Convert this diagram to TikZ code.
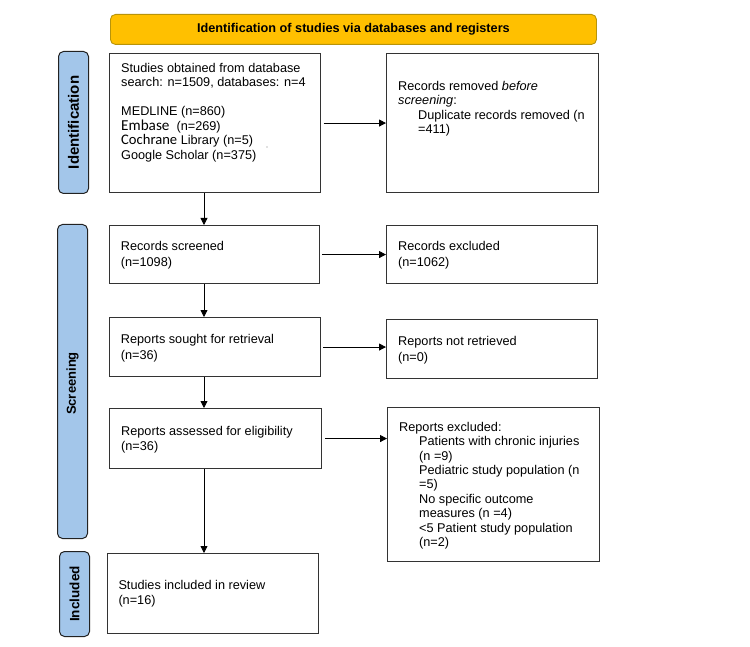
\documentclass[tikz,border=0pt]{standalone}
\usepackage{fontspec}
\setmainfont{Liberation Sans}
\newfontfamily\carlito{Carlito}
\usetikzlibrary{arrows.meta}
\definecolor{hdrfill}{HTML}{FFC000}
\definecolor{hdrline}{HTML}{B8940A}
\definecolor{sidefill}{HTML}{A3C6EA}
\definecolor{sideline}{HTML}{222222}
\definecolor{boxline}{HTML}{333333}
\tikzset{
  stagebox/.style={draw=boxline, line width=1.1pt, fill=white, inner sep=0pt, anchor=north west},
  txt/.style={inner sep=0pt, anchor=north west, align=left, font=\fontsize{12.7}{14.5}\selectfont},
  sidebox/.style={draw=sideline, line width=1pt, fill=sidefill, rounded corners=5pt, inner sep=0pt, anchor=north west},
  sidetxt/.style={inner sep=0pt, rotate=90, font=\bfseries\fontsize{14}{16}\selectfont},
  arr/.style={draw=black, line width=0.8pt, -{Triangle[length=7pt,width=7pt]}},
}
\begin{document}
\begin{tikzpicture}[x=1pt,y=-1pt]
\useasboundingbox[fill=white] (0,0) rectangle (750,647);

% header
\node[draw=hdrline, line width=0.9pt, fill=hdrfill, rounded corners=5pt, minimum width=486pt, minimum height=30pt, inner sep=0pt, anchor=north west] (hdr) at (110,14) {};
\node[inner sep=0pt, font=\bfseries\fontsize{12.7}{14}\selectfont] (hdrt) at (hdr.center) {Identification of studies via databases and registers};

% side labels
\node[sidebox, minimum width=30pt, minimum height=142pt] (sid) at (58,51) {};
\node[sidetxt, font=\bfseries\fontsize{15}{16}\selectfont] (sidt) at (sid.center) {Identification};
\node[sidebox, minimum width=30pt, minimum height=314pt] (ssc) at (57,224) {};
\node[sidetxt, font=\bfseries\fontsize{13}{16}\selectfont] (ssct) at ([yshift=-2pt]ssc.center) {Screening};
\node[sidebox, minimum width=30pt, minimum height=85pt] (sin) at (59,551) {};
\node[sidetxt, font=\bfseries\fontsize{13.5}{16}\selectfont] (sint) at (sin.center) {Included};

% boxes
\node[stagebox, minimum width=211pt, minimum height=139pt] (b1) at (109,53) {};
\node[stagebox, minimum width=212pt, minimum height=139pt] (b2) at (386,53) {};
\node[stagebox, minimum width=210pt, minimum height=58pt] (b3) at (109,225) {};
\node[stagebox, minimum width=211pt, minimum height=58pt] (b4) at (386,225) {};
\node[stagebox, minimum width=211pt, minimum height=59pt] (b5) at (109,317) {};
\node[stagebox, minimum width=211pt, minimum height=59pt] (b6) at (386,319) {};
\node[stagebox, minimum width=212pt, minimum height=60pt] (b7) at (109,408) {};
\node[stagebox, minimum width=212pt, minimum height=154pt] (b8) at (387,407) {};
\node[stagebox, minimum width=211pt, minimum height=80pt] (b9) at (107,553) {};

% texts
\node[txt] (t1) at (121,62.7) {Studies obtained from database\\
search: n=1509, databases: n=4\\[14.5pt]
MEDLINE (n=860)\\
{\carlito\fontsize{15.2}{14.5}\selectfont Embase}\ \ (n=269)\\
{\carlito\fontsize{14.6}{14.5}\selectfont Cochrane} Library (n=5)\\
Google Scholar (n=375)};
\fill[gray] (267,147) circle (0.7pt);

\node[txt] (t2) at (398,80.7) {Records removed \textit{before}\\
\textit{screening}:\\
\hspace*{20pt}Duplicate records removed (n\\
\hspace*{20pt}=411)};

\node[txt, font=\fontsize{12.7}{16}\selectfont] (t3) at (120.7,240.7) {Records screened\\(n=1098)};
\node[txt, font=\fontsize{12.7}{16}\selectfont] (t4) at (398,240.7) {Records excluded\\(n=1062)};
\node[txt, font=\fontsize{12.7}{16.5}\selectfont] (t5) at (120.7,334) {Reports sought for retrieval\\(n=36)};
\node[txt, font=\fontsize{12.7}{16}\selectfont] (t6) at (398,335.7) {Reports not retrieved\\(n=0)};
\node[txt, font=\fontsize{12.7}{15}\selectfont] (t7) at (121,425.7) {Reports assessed for eligibility\\(n=36)};
\node[txt, font=\fontsize{12.7}{14.45}\selectfont] (t8) at (399,421.7) {Reports excluded:\\
\hspace*{20pt}Patients with chronic injuries\\
\hspace*{20pt}(n =9)\\
\hspace*{20pt}Pediatric study population (n\\
\hspace*{20pt}=5)\\
\hspace*{20pt}No specific outcome\\
\hspace*{20pt}measures (n =4)\\
\hspace*{20pt}<5 Patient study population\\
\hspace*{20pt}(n=2)};
\node[txt, font=\fontsize{12.7}{15}\selectfont] (t9) at (118.3,580) {Studies included in review\\(n=16)};

% connectors
\draw[arr, shorten <=2.5pt] (b1.east) -- (b2.west);
\draw[arr] (b1.south -| 204,0) -- (b3.north -| 204,0);
\draw[arr, shorten <=2pt] (b3.east) -- (b4.west |- b3.east);
\draw[arr] (b3.south -| 204,0) -- (b5.north -| 204,0);
\draw[arr, shorten <=2pt] (b5.east) -- (b6.west |- b5.east);
\draw[arr] (b5.south -| 204,0) -- (b7.north -| 204,0);
\draw[arr, shorten <=3pt] (b7.east) -- (b8.west |- b7.east);
\draw[arr] (b7.south -| 204,0) -- (b9.north -| 204,0);
\end{tikzpicture}
\end{document}
